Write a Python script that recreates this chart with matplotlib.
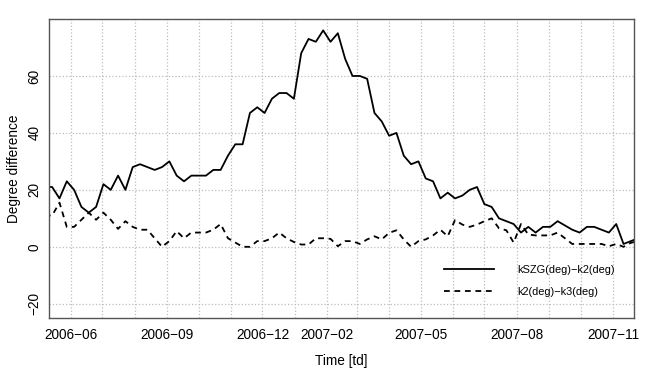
import matplotlib
matplotlib.use("Agg")
import matplotlib.dates as mdates
import matplotlib.pyplot as plt
import pandas as pd
from matplotlib import font_manager

# Weekly observations (first one sits just left of the visible range)
START_DATE = "2006-05-07"
KSZG_K2 = [21, 21, 17, 23, 20, 14, 12, 14, 22, 20, 25, 20, 28, 29, 28, 27, 28,
           30, 25, 23, 25, 25, 25, 27, 27, 32, 36, 36, 47, 49, 47, 52, 54, 54,
           52, 68, 73, 72, 76, 72, 75, 66, 60, 60, 59, 47, 44, 39, 40, 32, 29,
           30, 24, 23, 17, 19, 17, 18, 20, 21, 15, 14, 10, 9, 8, 5, 7, 5, 7, 7,
           9, 7.5, 6, 5, 7, 7, 6, 5, 8, 1, 2, 3]
K2_K3 = [11, 11, 15.5, 7, 7, 9.5, 12, 9.5, 12, 9.5, 6.3, 9, 7, 6, 6, 3, 0, 2,
         5.5, 3, 5, 5, 5, 6, 8, 3, 1.5, 0, 0, 2, 2, 3, 5, 3, 1.7, 0.8, 0.8, 3,
         3, 2.8, 0.2, 2, 2, 1, 2.6, 3.7, 2.6, 4.9, 5.8, 2.6, 0, 2, 2.6, 4, 6,
         3.7, 9.4, 7.8, 7, 7.8, 9, 10, 6.5, 5.8, 1.5, 8, 4.3, 4, 4, 4, 5, 3, 1,
         1, 1, 1, 1, 0.2, 1, 0, 1.4, 2]

LABELED_MONTHS = ["2006-06", "2006-09", "2006-12", "2007-02",
                  "2007-05", "2007-08", "2007-11"]
Y_TICKS = [-20, 0, 20, 40, 60]
X_RANGE = ("2006-05-11", "2007-11-21")
Y_RANGE = (-25, 80)

FONT = "Liberation Sans"
available = {f.name for f in font_manager.fontManager.ttflist}
if FONT not in available:
    FONT = "DejaVu Sans"
plt.rcParams["font.family"] = [FONT, "DejaVu Sans"]

dates = pd.date_range(START_DATE, periods=len(KSZG_K2), freq="7D")

fig = plt.figure(figsize=(6.54, 3.68), dpi=100)
ax = fig.add_axes([49 / 654, 1 - 318 / 368, 585 / 654, 299 / 368])

ax.plot(dates, KSZG_K2, color="black", linewidth=1.3,
        label="kSZG(deg)\u2212k2(deg)")
ax.plot(dates, K2_K3, color="black", linewidth=1.3, linestyle=(0, (3.2, 2.6)),
        label="k2(deg)\u2212k3(deg)")

ax.set_xlim(pd.Timestamp(X_RANGE[0]), pd.Timestamp(X_RANGE[1]))
ax.set_ylim(*Y_RANGE)

# monthly grid, labels only on a few months
ax.xaxis.set_minor_locator(mdates.MonthLocator())
ax.set_xticks([pd.Timestamp(m + "-01") for m in LABELED_MONTHS])
ax.set_xticklabels([m.replace("-", "\u2212") for m in LABELED_MONTHS])
ax.set_yticks(Y_TICKS)
ax.set_yticklabels([str(v).replace("-", "\u2212") for v in Y_TICKS],
                   rotation=90, va="center")

ax.grid(True, which="both", axis="x", color="#bdbdbd", linestyle=":", linewidth=0.9)
ax.grid(True, which="major", axis="y", color="#bdbdbd", linestyle=":", linewidth=0.9)
ax.set_axisbelow(True)

ax.tick_params(axis="both", which="both", length=0, labelsize=9.8)
ax.tick_params(axis="x", pad=7)
ax.tick_params(axis="y", pad=5.4)

for spine in ax.spines.values():
    spine.set_color("#555555")
    spine.set_linewidth(1.0)

ax.set_xlabel("Time [td]", fontsize=9.8, labelpad=9)
ax.set_ylabel("Degree difference", fontsize=9.8, labelpad=5)

ax.legend(loc="upper left", bbox_to_anchor=(444 / 654, 1 - 265 / 368),
          bbox_transform=fig.transFigure, frameon=False, fontsize=7.9,
          handlelength=4.6, handletextpad=2.1, labelspacing=1.12, borderpad=0,
          borderaxespad=0)

fig.savefig("out.png", dpi=100)
